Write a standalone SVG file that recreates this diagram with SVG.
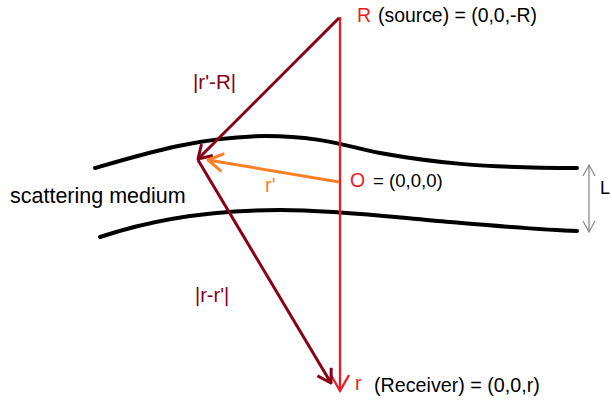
<svg xmlns="http://www.w3.org/2000/svg" width="612" height="403" viewBox="0 0 612 403">
<style>
text { font-family: "Liberation Sans", Arial, sans-serif; }
.blk { fill: #000; }
.red { fill: #ed1c24; }
.dred { fill: #880015; }
.org { fill: #ff7f27; }
.medium { fill: none; stroke: #000; stroke-width: 4; stroke-linecap: round; }
</style>
<defs>
<marker id="hRed" markerUnits="userSpaceOnUse" markerWidth="40" markerHeight="40" viewBox="-20 -20 40 40" refX="0" refY="0" orient="auto">
<path d="M-16,-9 L0,0 L-16,9" fill="none" stroke="#ed1c24" stroke-width="2.3"/>
</marker>
<marker id="hDred" markerUnits="userSpaceOnUse" markerWidth="40" markerHeight="40" viewBox="-20 -20 40 40" refX="0" refY="0" orient="auto">
<path d="M-13,-8 L0,0 L-13,8" fill="none" stroke="#880015" stroke-width="3" stroke-linejoin="round"/>
</marker>
<marker id="hOrg" markerUnits="userSpaceOnUse" markerWidth="40" markerHeight="40" viewBox="-20 -20 40 40" refX="0" refY="0" orient="auto">
<path d="M-15,-9 L0,0 L-15,9" fill="none" stroke="#ff7f27" stroke-width="3" stroke-linejoin="round"/>
</marker>
<marker id="hGray" markerUnits="userSpaceOnUse" markerWidth="30" markerHeight="30" viewBox="-15 -15 30 30" refX="0" refY="0" orient="auto-start-reverse">
<path d="M-11,-6 L0,0 L-11,6" fill="none" stroke="#8c8c8c" stroke-width="1.3"/>
</marker>
</defs>

<g id="medium">
<path class="medium" d="M95,168 C150,152 200,137 265,136 C320,136 345,146 380,153 C430,162 480,168 577,168"/>
<path class="medium" d="M100,237 C150,220 210,210 280,210 C340,210 400,218 450,222 C500,226 540,230 577,231"/>
<text class="blk" x="10" y="203" font-size="21.5">scattering medium</text>
</g>

<g id="connectors">
<line x1="340" y1="17" x2="340" y2="391" stroke="#ed1c24" stroke-width="2.3" marker-end="url(#hRed)"/>
<line x1="339" y1="18" x2="198" y2="159" stroke="#880015" stroke-width="3" marker-end="url(#hDred)"/>
<line x1="198" y1="160" x2="331" y2="383" stroke="#880015" stroke-width="3" marker-end="url(#hDred)"/>
<line x1="339" y1="182" x2="208" y2="160" stroke="#ff7f27" stroke-width="3" marker-end="url(#hOrg)"/>
<line x1="589" y1="165" x2="589" y2="232" stroke="#8c8c8c" stroke-width="1.3" marker-start="url(#hGray)" marker-end="url(#hGray)"/>
</g>

<g id="source">
<text class="red" x="357" y="22" font-size="19.5">R</text>
<text class="blk" x="378" y="22" font-size="19.4">(source) = (0,0,-R)</text>
</g>

<g id="origin">
<text class="red" x="350" y="187" font-size="19.5">O</text>
<text class="blk" x="373" y="187" font-size="18.6">= (0,0,0)</text>
</g>

<g id="receiver">
<text class="red" x="355" y="390" font-size="19.5">r</text>
<text class="blk" x="374" y="392" font-size="19.7">(Receiver) = (0,0,r)</text>
</g>

<g id="labels">
<text class="dred" x="193" y="89" font-size="20.5">|r'-R|</text>
<text class="dred" x="195" y="302" font-size="20">|r-r'|</text>
<text class="org" x="265" y="192" font-size="20">r'</text>
<text class="blk" x="600" y="194" font-size="18">L</text>
</g>
</svg>
